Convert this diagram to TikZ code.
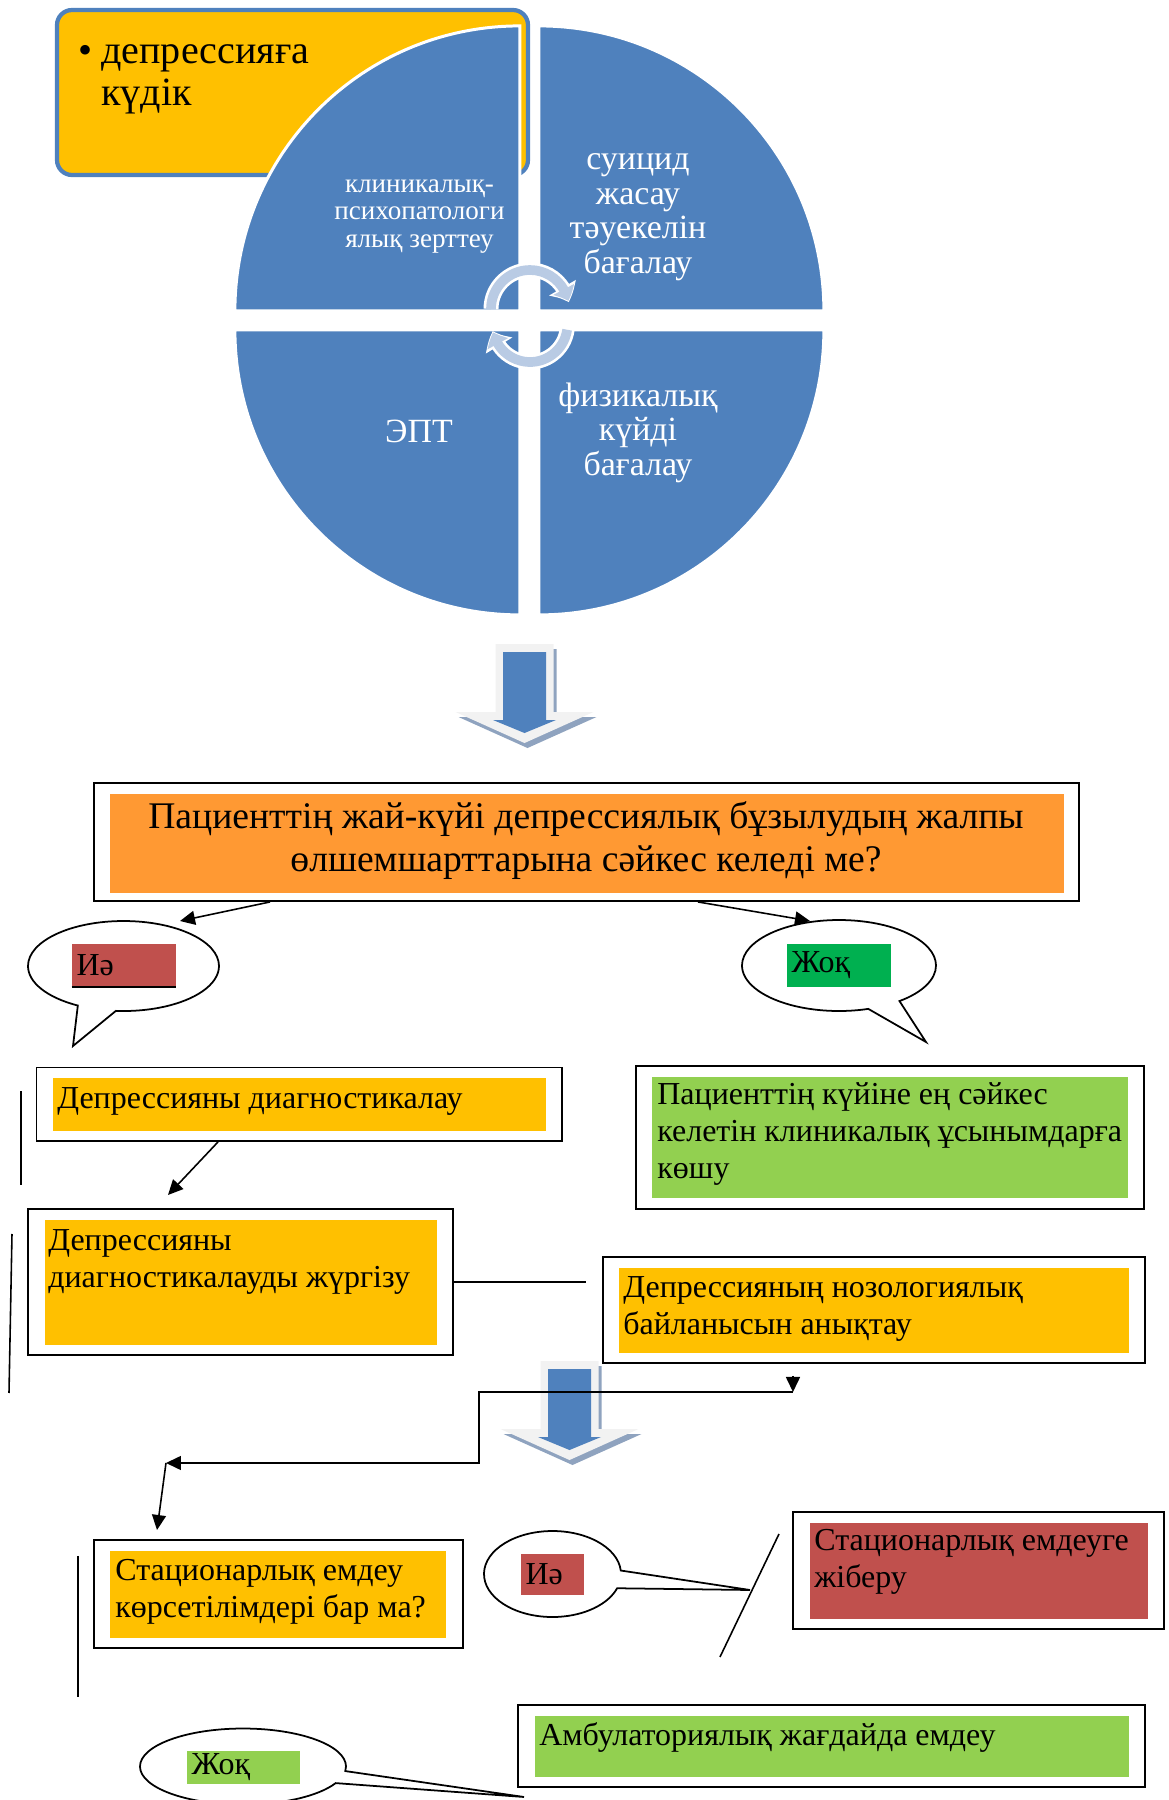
\documentclass[tikz,border=0pt]{standalone}
\usepackage{fontspec}
\setmainfont{Liberation Serif}
\usetikzlibrary{arrows.meta,bending,fit,shapes.callouts}

\definecolor{pieblue}{RGB}{79,129,189}
\definecolor{arcblue}{RGB}{185,203,228}
\definecolor{suspyellow}{RGB}{255,192,0}
\definecolor{askorange}{RGB}{255,153,51}
\definecolor{yesred}{RGB}{192,80,77}
\definecolor{okgreen}{RGB}{146,208,80}
\definecolor{nogreen}{RGB}{0,176,80}
\definecolor{arrowface}{RGB}{242,242,242}
\definecolor{arrowshade}{RGB}{143,163,191}

\begin{document}
\begin{tikzpicture}[scale=0.2,
  every node/.append style={inner sep=0pt},
  frame/.style={draw=black, line width=1.1pt},
  quad/.style={fill=pieblue, draw=white, line width=1.7pt},
  arr/.style={-{Triangle[length=3mm,width=2.8mm]}, line width=0.9pt},
  bubble/.style={ellipse callout, draw=black, line width=1pt, fill=white},
  txt/.style={font=\fontsize{18.2}{21}\selectfont, align=left, anchor=base west},
  tag/.style={font=\fontsize{18.2}{21}\selectfont, align=left, inner xsep=0.9mm},
  pietxt/.style={white, font=\fontsize{19.3}{19.6}\selectfont, align=center, anchor=base}
]
\useasboundingbox (0,0) rectangle (116.9,-180);
% suspicion box behind the pie
\node[draw=pieblue, line width=2.4pt, fill=suspyellow, rounded corners=3mm, fit={(5.7,-1.0) (52.8,-17.5)}] (suspBox) {};
\node[font=\fontsize{22.8}{23.9}\selectfont, anchor=base west] (suspDot) at (7.85,-6.3) {•};
\node[font=\fontsize{22.8}{23.9}\selectfont, align=left, anchor=base west] (suspText) at (10.1,-10.5) {депрессияға\\күдік};
% pie of four quarters
\filldraw[quad] (51.99,-31.09) -- (23.49,-31.09) arc[start angle=180, end angle=90, radius=28.5] -- cycle;
\filldraw[quad] (53.89,-31.09) -- (53.89,-2.59) arc[start angle=90, end angle=0, radius=28.5] -- cycle;
\filldraw[quad] (51.99,-32.99) -- (23.49,-32.99) arc[start angle=180, end angle=270, radius=28.5] -- cycle;
\filldraw[quad] (53.89,-32.99) -- (82.39,-32.99) arc[start angle=0, end angle=-90, radius=28.5] -- cycle;
\node[pietxt, font=\fontsize{15.4}{15.6}\selectfont] (clinText) at (41.95,-24.7) {клиникалық-\\психопатологи\\ялық зерттеу};
\node[pietxt] (riskText) at (63.8,-27.3) {суицид\\жасау\\тәуекелін\\бағалау};
\node[pietxt] (eptText) at (41.9,-44.2) {ЭПТ};
\node[pietxt] (physText) at (63.8,-47.5) {физикалық\\күйді\\бағалау};
% turning arrows in the middle
\draw[white, line width=8.5pt, -{Triangle[bend,length=9pt,width=17pt]}] (53.0,-30.9) ++(180:3.9) arc[start angle=180, end angle=10, radius=3.9];
\draw[arcblue, line width=5.5pt, -{Triangle[bend,length=7pt,width=13pt]}] (53.0,-30.9) ++(180:3.9) arc[start angle=180, end angle=12, radius=3.9];
\draw[white, line width=8.5pt, -{Triangle[bend,length=9pt,width=17pt]}] (53.0,-32.45) ++(-8:3.75) arc[start angle=-8, end angle=-170, radius=3.75];
\draw[arcblue, line width=5.5pt, -{Triangle[bend,length=7pt,width=13pt]}] (53.0,-32.45) ++(-8:3.75) arc[start angle=-8, end angle=-168, radius=3.75];
% block arrows
\foreach \tx/\ty in {52.45/-74.3, 56.95/-146.0} {
  \fill[arrowshade] (\tx+0.3,\ty-0.5) -- ++(-6.9,3.1) -- ++(4.0,0) -- ++(0,6.8) -- ++(5.8,0) -- ++(0,-6.8) -- ++(4.0,0) -- cycle;
  \fill[arrowface] (\tx,\ty) -- ++(-6.9,3.1) -- ++(4.0,0) -- ++(0,6.8) -- ++(5.8,0) -- ++(0,-6.8) -- ++(4.0,0) -- cycle;
  \fill[pieblue] (\tx,\ty+1.0) -- ++(-3.15,1.3) -- ++(1.0,0) -- ++(0,6.8) -- ++(4.3,0) -- ++(0,-6.8) -- ++(1.0,0) -- cycle;
}
% question
\node[frame, fit={(9.4,-78.3) (107.9,-90.1)}] (askFrame) {};
\fill[askorange] (10.95,-79.4) rectangle (106.4,-89.3);
\node[font=\fontsize{21.4}{24.2}\selectfont, align=center, anchor=base] (askText) at (58.6,-87.1) {Пациенттің жай-күйі депрессиялық бұзылудың жалпы\\өлшемшарттарына сәйкес келеді ме?};
% yes / no bubbles
\coordinate (yesPtrA) at (7.3,-104.6);
\coordinate (noPtrA) at (92.6,-104.2);
\coordinate (yesPtrB) at (75.0,-159.0);
\coordinate (noPtrB) at (52.4,-179.7);
\node[bubble, minimum width=38.2mm, minimum height=18mm, callout absolute pointer={(yesPtrA)}, callout pointer arc=24] (yesBubbleA) at (12.35,-96.6) {};
\node[bubble, minimum width=38.8mm, minimum height=18.2mm, callout absolute pointer={(noPtrA)}, callout pointer arc=21] (noBubbleA) at (83.9,-96.55) {};
\node[bubble, minimum width=27.4mm, minimum height=17.2mm, callout absolute pointer={(yesPtrB)}, callout pointer arc=24] (yesBubbleB) at (55.25,-157.4) {};
\node[bubble, minimum width=41.2mm, minimum height=15.2mm, callout absolute pointer={(noPtrB)}, callout pointer arc=19] (noBubbleB) at (24.3,-176.65) {};
\node[tag, fill=yesred, text width=19mm, minimum height=8.6mm] (yesTagA) at (12.4,-96.55) {Иә};
\draw[line width=1.2pt] (yesTagA.south west) -- (yesTagA.south east);
\node[tag, fill=nogreen, text width=19mm, minimum height=8.6mm] (noTagA) at (83.9,-96.55) {Жоқ};
\node[tag, fill=yesred, text width=10.8mm, minimum height=8.2mm] (yesTagB) at (55.25,-157.45) {Иә};
\node[tag, fill=okgreen, text width=20.8mm, minimum height=6.6mm] (noTagB) at (24.35,-176.75) {Жоқ};
% boxes
\node[frame, fit={(3.65,-106.75) (56.2,-114.1)}] (diagFrame) {};
\fill[suspyellow] (5.28,-107.83) rectangle (54.6,-113.07);
\node[txt] (diagText) at (5.7,-110.8) {Депрессияны диагностикалау};
\node[frame, fit={(63.6,-106.6) (114.4,-120.9)}] (adviceFrame) {};
\fill[okgreen] (65.2,-107.7) rectangle (112.8,-119.8);
\node[txt] (adviceText) at (65.7,-117.8) {Пациенттің күйіне ең сәйкес\\келетін клиникалық ұсынымдарға\\көшу};
\node[frame, fit={(2.8,-120.9) (45.3,-135.5)}] (runFrame) {};
\fill[suspyellow] (4.52,-122.0) rectangle (43.7,-134.5);
\node[txt] (runText) at (4.8,-128.7) {Депрессияны\\диагностикалауды жүргізу};
\node[frame, fit={(60.3,-125.7) (114.5,-136.3)}] (nosoFrame) {};
\fill[suspyellow] (61.9,-126.8) rectangle (112.9,-135.3);
\node[txt] (nosoText) at (62.3,-133.4) {Депрессияның нозологиялық\\байланысын анықтау};
\node[frame, fit={(9.4,-154.0) (46.3,-164.8)}] (wardFrame) {};
\fill[suspyellow] (11.0,-155.1) rectangle (44.6,-163.8);
\node[txt] (wardText) at (11.5,-161.7) {Стационарлық емдеу\\көрсетілімдері бар ма?};
\node[frame, fit={(79.3,-151.2) (116.4,-162.9)}] (sendFrame) {};
\fill[yesred] (81.0,-152.3) rectangle (114.8,-161.9);
\node[txt] (sendText) at (81.4,-158.7) {Стационарлық емдеуге\\жіберу};
\node[frame, fit={(51.8,-170.5) (114.5,-178.7)}] (ambFrame) {};
\fill[okgreen] (53.5,-171.6) rectangle (112.9,-177.7);
\node[txt] (ambText) at (53.9,-174.5) {Амбулаториялық жағдайда емдеу};
% connectors
\coordinate (yesArrTip) at (18.0,-92.1);
\coordinate (noArrTip) at (81.0,-92.1);
\coordinate (runArrTip) at (16.8,-119.5);
\coordinate (runEnd) at (58.6,-128.2);
\coordinate (elbowTop) at (79.3,-137.6);
\coordinate (elbowA) at (79.3,-139.2);
\coordinate (elbowB) at (47.9,-146.3);
\coordinate (elbowC) at (16.6,-146.3);
\coordinate (wardArrTip) at (15.7,-153.0);
\draw[arr] (askFrame.south -| 27.0,0) -- (yesArrTip);
\draw[arr] (askFrame.south -| 69.8,0) -- (noArrTip);
\draw[arr] (diagFrame.south -| 21.8,0) -- (runArrTip);
\draw[line width=0.9pt] (runFrame.east) -- (runEnd);
\draw[arr] (elbowTop) -- (elbowA);
\draw[arr] (elbowA) -| (elbowB) -- (elbowC);
\draw[arr] (elbowC) -- (wardArrTip);
% loose strokes
\coordinate (strokeA1) at (2.1,-109.1);
\coordinate (strokeA2) at (2.1,-118.5);
\coordinate (strokeB1) at (1.2,-123.4);
\coordinate (strokeB2) at (0.9,-139.3);
\coordinate (strokeC1) at (7.8,-155.6);
\coordinate (strokeC2) at (7.8,-169.7);
\coordinate (strokeD1) at (77.9,-153.4);
\coordinate (strokeD2) at (72.0,-165.7);
\draw[line width=0.9pt] (strokeA1) -- (strokeA2);
\draw[line width=0.9pt] (strokeB1) -- (strokeB2);
\draw[line width=0.9pt] (strokeC1) -- (strokeC2);
\draw[line width=0.9pt] (strokeD1) -- (strokeD2);
\end{tikzpicture}
\end{document}
